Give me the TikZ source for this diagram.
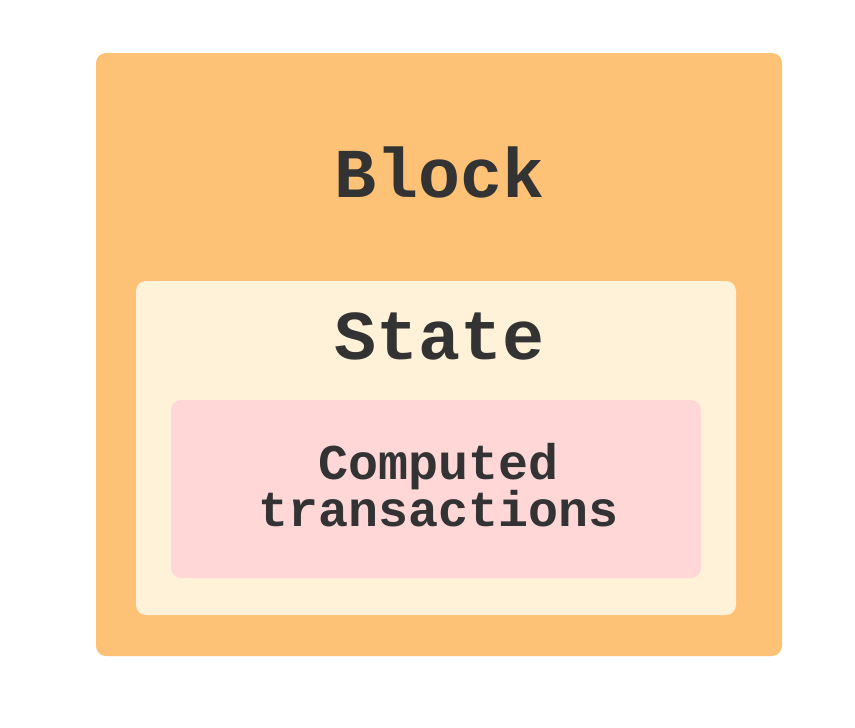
\documentclass[tikz,border=0pt]{standalone}
\usepackage{fontspec}
\setmonofont{Liberation Mono}
\definecolor{outerc}{HTML}{FDC276}
\definecolor{midc}{HTML}{FFF2D9}
\definecolor{innerc}{HTML}{FFD7D7}
\definecolor{txt}{HTML}{333333}
\tikzset{
  boxstyle/.style={rounded corners=10pt, draw=none},
  bigtext/.style={font=\ttfamily\bfseries\fontsize{70}{70}\selectfont, text=txt, anchor=base, inner sep=0pt},
  smalltext/.style={font=\ttfamily\bfseries\fontsize{50}{47}\selectfont, text=txt, anchor=base, inner sep=0pt},
}
\begin{document}
\begin{tikzpicture}[x=1pt,y=-1pt]
\useasboundingbox (0,0) rectangle (855,728);
\fill[white] (0,0) rectangle (855,728);
\fill[boxstyle, outerc] (96,53) rectangle (782,656);
\fill[boxstyle, midc] (136,281) rectangle (736,615);
\fill[boxstyle, innerc] (171,400) rectangle (701,578);
\node[bigtext] (block) at (440,197) {Block};
\node[bigtext] (state) at (440,359) {State};
\node[smalltext] (comp) at (439,479) {Computed};
\node[smalltext] (trans) at (439,526) {transactions};
\end{tikzpicture}
\end{document}
